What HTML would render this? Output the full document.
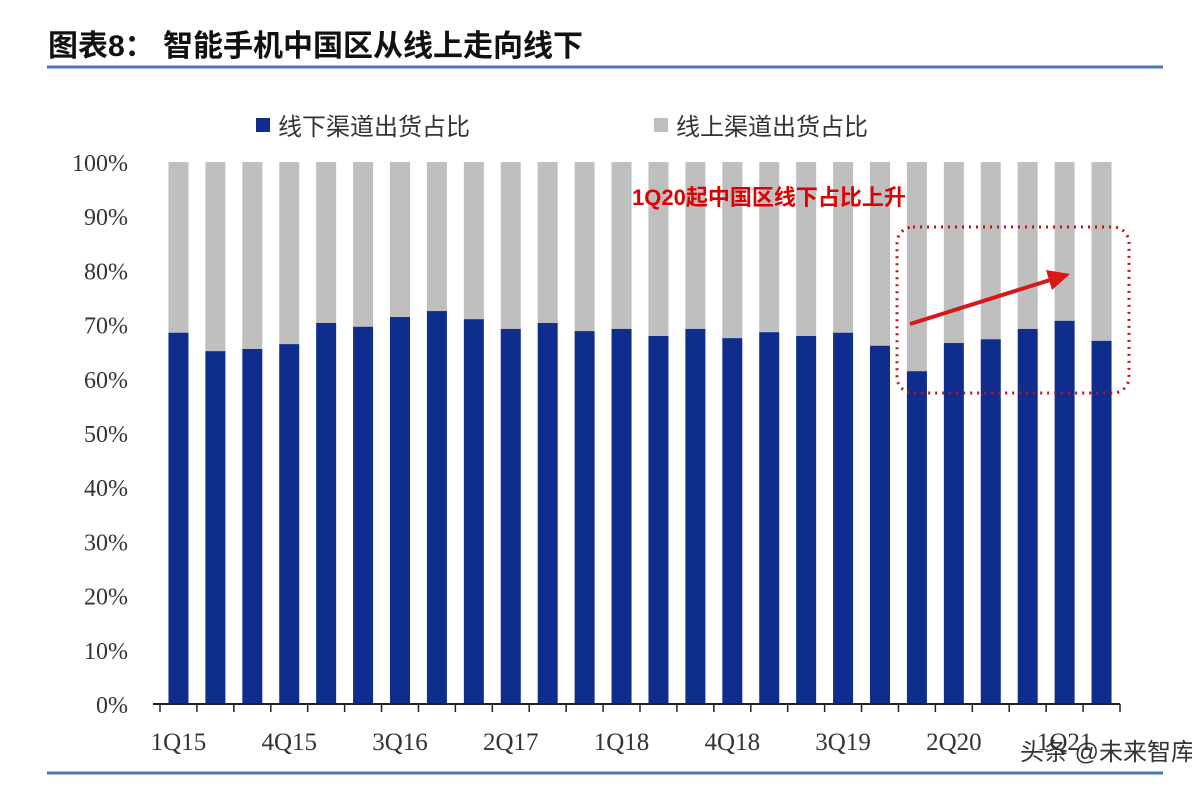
<!DOCTYPE html>
<html><head><meta charset="utf-8">
<style>
body{margin:0;background:#fff;width:1192px;height:788px;overflow:hidden;}
svg text{font-family:"Liberation Serif","Noto Serif CJK SC",serif;}
</style></head>
<body>
<svg id="c" width="1192" height="788" xmlns="http://www.w3.org/2000/svg">
<text x="48" y="56" font-size="30" font-weight="bold" fill="#111" style="font-family:'Liberation Sans','Noto Sans CJK SC',sans-serif">图表8：  智能手机中国区从线上走向线下</text>
<line x1="47" y1="67" x2="1163" y2="67" stroke="#4a74b8" stroke-width="3"/>
<line x1="47" y1="773" x2="1163" y2="773" stroke="#4a74b8" stroke-width="3"/>
<g>
<rect x="256" y="118" width="14" height="14" fill="#0e2d8c"/>
<text x="278" y="135" font-size="24" fill="#333" style="font-family:'Liberation Sans','Noto Sans CJK SC',sans-serif">线下渠道出货占比</text>
<rect x="654" y="118" width="14" height="14" fill="#bfbfbf"/>
<text x="676" y="135" font-size="24" fill="#333" style="font-family:'Liberation Sans','Noto Sans CJK SC',sans-serif">线上渠道出货占比</text>
</g>
<g id="plot"></g>
<text x="632" y="205" font-size="22" font-weight="bold" fill="#e00000" style="font-family:'Liberation Sans','Noto Sans CJK SC',sans-serif">1Q20起中国区线下占比上升</text>
<rect x="897" y="227" width="232" height="166" rx="16" fill="none" stroke="#c0101a" stroke-width="3" stroke-dasharray="2,5"/>
<line x1="910" y1="324" x2="1050" y2="280" stroke="#d61818" stroke-width="4"/>
<polygon points="1070,274 1046,270 1052,290" fill="#d61818"/>
<text x="1020" y="760" font-size="24" fill="#333" style="font-family:'Liberation Sans','Noto Sans CJK SC',sans-serif">头条 @未来智库</text>
</svg>
<script>
const categories=["1Q15","2Q15","3Q15","4Q15","1Q16","2Q16","3Q16","4Q16","1Q17","2Q17","3Q17","4Q17","1Q18","2Q18","3Q18","4Q18","1Q19","2Q19","3Q19","4Q19","1Q20","2Q20","3Q20","4Q20","1Q21","2Q21"];
const offlineShare=[68.5,65.1,65.5,66.4,70.3,69.6,71.4,72.5,71.0,69.2,70.3,68.8,69.2,67.9,69.2,67.5,68.6,67.9,68.5,66.1,61.4,66.6,67.3,69.2,70.7,67.0];
const yTicks=[0,10,20,30,40,50,60,70,80,90,100];
const labelEvery=3;
const NS="http://www.w3.org/2000/svg";
const g=document.getElementById('plot');
const x0=160,x1=1120,y0=704,y1=162;
const step=(x1-x0)/categories.length;
const X=i=>x0+step*(i+0.5);
const Y=v=>y0-(v/100)*(y0-y1);
function mk(t,a){const e=document.createElementNS(NS,t);for(const k in a)e.setAttribute(k,a[k]);g.appendChild(e);return e;}
yTicks.forEach(t=>{
 const e=mk('text',{x:128,y:Y(t)+9,'font-size':24,'text-anchor':'end',fill:'#333'});
 e.textContent=t+'%';
 
 
});
offlineShare.forEach((v,i)=>{
 const w=20;
 const on=mk('rect',{x:X(i)-w/2,y:Y(100),width:w,height:Y(v)-Y(100),fill:'#bfbfbf'});
 
 
 const off=mk('rect',{x:X(i)-w/2,y:Y(v),width:w,height:y0-Y(v),fill:'#0e2d8c'});
 
 
});
const ax=mk('line',{x1:153,y1:y0,x2:x1,y2:y0,stroke:'#222','stroke-width':2});


for(let i=0;i<=categories.length;i++){
 const t=mk('line',{x1:x0+step*i,y1:y0,x2:x0+step*i,y2:y0+8,stroke:'#222','stroke-width':1.5});
 
 
}
categories.forEach((c,i)=>{
 if(i%labelEvery)return;
 const e=mk('text',{x:X(i),y:750,'font-size':25,'text-anchor':'middle',fill:'#333'});
 e.textContent=c;
 
 
});
</script>
</body></html>
